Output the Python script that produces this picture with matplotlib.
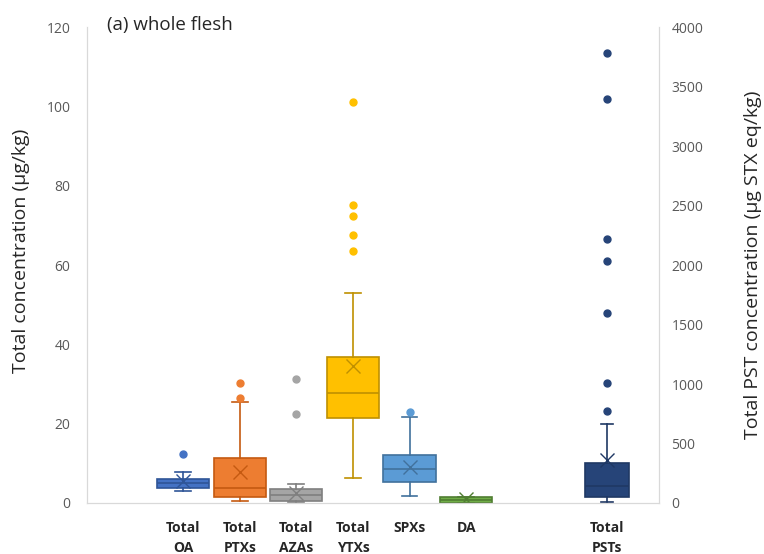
import matplotlib.pyplot as plt

plt.rcParams['font.family'] = ['Open Sans', 'DejaVu Sans']

# categories on the left axis (µg/kg)
labels = ["Total\nOA", "Total\nPTXs", "Total\nAZAs", "Total\nYTXs", "SPXs", "DA"]
q1 = [3.8, 1.5, 0.5, 21.4, 5.3, 0.0]
med = [5.0, 3.8, 2.0, 27.7, 8.6, 0.8]
q3 = [6.1, 11.3, 3.5, 36.8, 12.1, 1.5]
whislo = [3.0, 0.5, 0.25, 6.3, 1.8, 0.0]
whishi = [7.8, 25.5, 4.8, 52.9, 21.7, 1.5]
mean = [5.5, 7.8, 2.5, 34.5, 9.0, 1.0]
fliers = [[12.4], [26.5, 30.3], [22.4, 31.3], [63.5, 67.6, 72.3, 75.1, 101.1], [22.9], []]

# PSTs on the right axis (µg STX eq/kg)
pst_label = "Total\nPSTs"
pst_q1, pst_med, pst_q3 = 50, 142, 335
pst_whislo, pst_whishi = 8, 662
pst_mean = 360
pst_fliers = [771, 1006, 1600, 2037, 2221, 3395, 3780]

fill = ["#4472C4", "#ED7D31", "#A5A5A5", "#FFC000", "#5B9BD5", "#70AD47"]
edge = ["#2F5597", "#C55A11", "#7F7F7F", "#BF9000", "#41719C", "#507E32"]
pst_fill, pst_edge = "#264478", "#1F3864"

pos = [1, 2, 3, 4, 5, 6]
pst_pos = 8.49

fig = plt.figure(figsize=(7.64, 5.54), dpi=100)
ax = fig.add_axes([0.1139, 0.0921, 0.7487, 0.859])
ax2 = ax.twinx()

for i in range(len(labels)):
    st = [dict(q1=q1[i], med=med[i], q3=q3[i], whislo=whislo[i], whishi=whishi[i],
               mean=mean[i], fliers=fliers[i])]
    ax.bxp(st, positions=[pos[i]], widths=0.92, patch_artist=True, showmeans=True,
           manage_ticks=False,
           boxprops=dict(facecolor=fill[i], edgecolor=edge[i], linewidth=1.2),
           medianprops=dict(color=edge[i], linewidth=1.2),
           whiskerprops=dict(color=edge[i], linewidth=1.2),
           capprops=dict(color=edge[i], linewidth=1.2),
           capwidths=0.28,
           meanprops=dict(marker='x', markeredgecolor=edge[i], markersize=10, markeredgewidth=1.0),
           flierprops=dict(marker='o', markerfacecolor=fill[i], markeredgecolor=fill[i], markersize=5))

st = [dict(q1=pst_q1, med=pst_med, q3=pst_q3, whislo=pst_whislo, whishi=pst_whishi,
           mean=pst_mean, fliers=pst_fliers)]
ax2.bxp(st, positions=[pst_pos], widths=0.78, patch_artist=True, showmeans=True,
        manage_ticks=False,
        boxprops=dict(facecolor=pst_fill, edgecolor=pst_edge, linewidth=1.2),
        medianprops=dict(color=pst_edge, linewidth=1.2),
        whiskerprops=dict(color=pst_edge, linewidth=1.2),
        capprops=dict(color=pst_edge, linewidth=1.2),
        capwidths=0.22,
        meanprops=dict(marker='x', markeredgecolor=pst_edge, markersize=10, markeredgewidth=1.0),
        flierprops=dict(marker='o', markerfacecolor=pst_fill, markeredgecolor=pst_fill, markersize=5))

ax.set_xlim(-0.70, 9.41)
ax.set_ylim(0, 120)
ax2.set_ylim(0, 4000)
ax.set_yticks(range(0, 121, 20))
ax2.set_yticks(range(0, 4001, 500))
ax.set_xticks(pos + [pst_pos])
ax.set_xticklabels(labels + [pst_label], fontsize=8.5, fontweight='bold', color='#262626',
                   linespacing=1.5)

for a in (ax, ax2):
    a.tick_params(length=0, labelsize=10, labelcolor='#595959')
    a.spines['top'].set_visible(False)
    for s in ('left', 'right', 'bottom'):
        a.spines[s].set_color('#D9D9D9')
ax.tick_params(axis='x', labelcolor='#262626', pad=13)
ax.tick_params(axis='y', pad=12)
ax2.tick_params(axis='y', pad=9)

ax.set_ylabel("Total concentration (µg/kg)", fontsize=14, color='#262626')
ax.yaxis.set_label_coords(-0.10, 0.53)
ax2.set_ylabel("Total PST concentration (µg STX eq/kg)", fontsize=14, color='#262626', labelpad=29)
ax.text(-0.35, 120.5, "(a) whole flesh", fontsize=13.5, color='#262626', va='center')

fig.savefig("out.png", dpi=100)
